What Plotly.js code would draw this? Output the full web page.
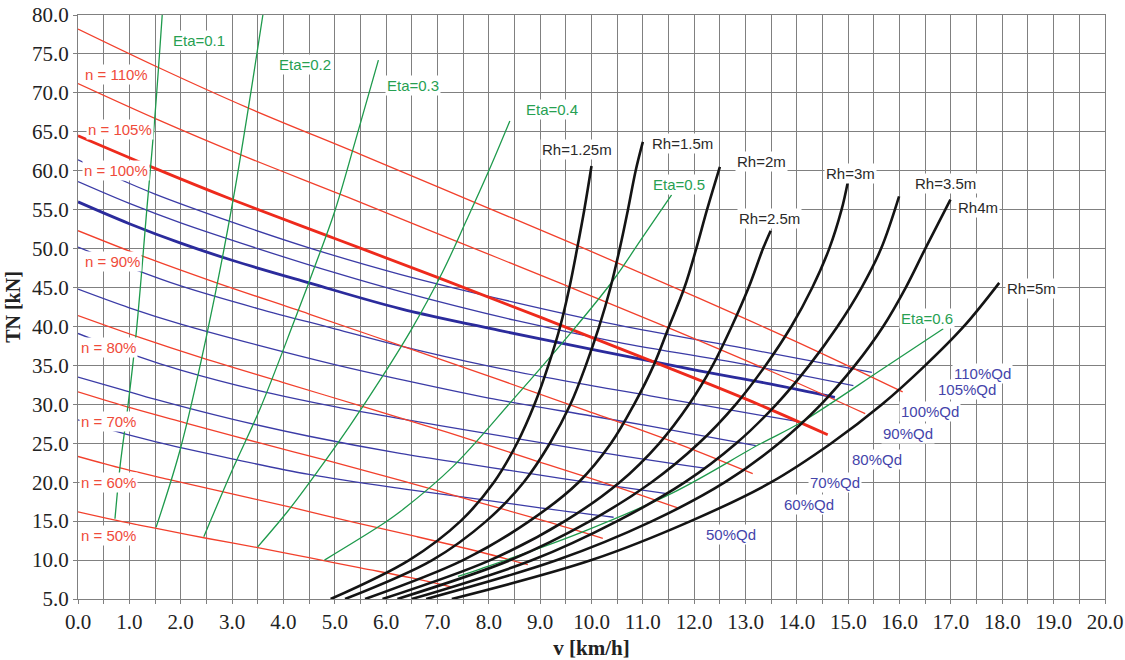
<!DOCTYPE html>
<html>
<head>
<meta charset="utf-8">
<script src="https://cdn.plot.ly/plotly-3.0.1.min.js"></script>
<style>html,body{margin:0;padding:0;background:#fff;}#chart{width:1125px;height:660px;}</style>
</head>
<body>
<div id="chart"></div>
<script>
// ---------- DATA ----------
// Red: constant propeller speed n
const red110V = [0, 1.65, 3.3, 5.5, 7.7, 9.9, 12.1, 14.3, 16.06];
const red110T = [78.2, 73.0, 68.1, 62.1, 56.0, 49.9, 43.6, 37.1, 31.6];
const red105V = [0, 1.575, 3.15, 5.25, 7.35, 9.45, 11.55, 13.65, 15.33];
const red105T = [71.2, 66.5, 62.1, 56.6, 51.0, 45.4, 39.7, 33.8, 28.8];
const red100V = [0, 1.5, 3, 5, 7, 9, 11, 13, 14.6];
const red100T = [64.5, 60.3, 56.3, 51.3, 46.3, 41.2, 36.0, 30.7, 26.1];
const red90V = [0, 1.35, 2.7, 4.5, 6.3, 8.1, 9.9, 11.7, 13.14];
const red90T = [52.3, 48.8, 45.6, 41.6, 37.5, 33.4, 29.2, 24.9, 21.1];
const red80V = [0, 1.2, 2.4, 4, 5.6, 7.2, 8.8, 10.4, 11.68];
const red80T = [41.4, 38.6, 36.0, 32.8, 29.6, 26.4, 23.0, 19.6, 16.7];
const red70V = [0, 1.05, 2.1, 3.5, 4.9, 6.3, 7.7, 9.1, 10.22];
const red70T = [31.6, 29.5, 27.6, 25.1, 22.7, 20.2, 17.6, 15.0, 12.8];
const red60V = [0, 0.9, 1.8, 3, 4.2, 5.4, 6.6, 7.8, 8.76];
const red60T = [23.3, 21.7, 20.3, 18.5, 16.7, 14.8, 13.0, 11.1, 9.4];
const red50V = [0, 0.75, 1.5, 2.5, 3.5, 4.5, 5.5, 6.5, 7.3];
const red50T = [16.2, 15.1, 14.1, 12.8, 11.6, 10.3, 9.0, 7.7, 6.5];

// Blue: constant delivered power Qd
const q110V = [0, 0.75, 1.5, 3, 4.5, 6.27, 8.5, 10.5, 13.09, 15.46];
const q110T = [61.4, 59.1, 57.0, 53.4, 50.1, 46.7, 43.1, 40.2, 37.05, 34.1];
const q105V = [0, 1, 2, 3.5, 5, 6.27, 8.5, 10.5, 13.09, 15.1];
const q105T = [58.6, 55.8, 53.3, 50.0, 46.9, 44.5, 40.8, 38.0, 35.0, 32.4];
const q100V = [0, 1, 2, 3, 4.5, 6.27, 8.2, 10.2, 12.1, 13.5, 14.74];
const q100T = [56.0, 53.2, 50.7, 48.5, 45.6, 42.3, 39.5, 36.8, 34.3, 32.6, 30.9];
const q90V = [0, 1.07, 2, 3.5, 5, 6.27, 8, 10, 11.14, 12.5, 14.0];
const q90T = [50.2, 47.4, 45.2, 42.3, 39.7, 37.5, 34.9, 32.4, 31.1, 29.5, 27.8];
const q80V = [0, 1, 2, 3.5, 5, 6.27, 8, 10, 11.14, 13.2];
const q80T = [44.8, 42.4, 40.3, 37.6, 35.1, 33.2, 30.8, 28.5, 27.2, 24.7];
const q70V = [0, 1.11, 2, 3.5, 5, 6.5, 7.83, 10, 12.2];
const q70T = [39.1, 36.3, 34.4, 31.8, 29.7, 27.9, 26.4, 24.0, 21.8];
const q60V = [0, 0.8, 1.53, 3, 4.5, 6.27, 7.83, 9.5, 11.5];
const q60T = [33.5, 32.0, 30.6, 28.1, 25.9, 23.7, 22.1, 20.4, 18.5];
const q50V = [0, 0.43, 1.5, 3, 4.5, 6.27, 7.83, 9, 10.43];
const q50T = [28.0, 27.1, 25.2, 23.0, 21.0, 19.2, 17.8, 16.7, 15.5];

// Green: constant efficiency Eta
const eta01V = [0.72, 0.82, 0.98, 1.14, 1.34, 1.5, 1.64];
const eta01T = [15.3, 22.1, 30.2, 39.6, 55.0, 67.2, 80.0];
const eta02V = [1.52, 1.99, 2.5, 3.02, 3.6];
const eta02T = [14.2, 24.2, 38.7, 56.25, 80.0];
const eta03V = [2.45, 3.0, 3.55, 4.2, 4.6, 5.0, 5.4, 5.85];
const eta03T = [13.0, 21.5, 29.5, 40.5, 47.5, 54.8, 63.8, 74.2];
const eta04V = [3.5, 4.1, 4.7, 5.3, 5.9, 6.5, 7.1, 7.57, 8.0, 8.41];
const eta04T = [11.7, 16.4, 21.7, 27.3, 33.3, 39.7, 47.0, 53.7, 60.0, 66.4];
const eta05V = [4.8, 5.88, 6.27, 7.3, 8.47, 9.65, 10.43, 11.0, 11.56];
const eta05T = [10.0, 14.4, 16.2, 22.0, 30.6, 39.6, 46.0, 51.5, 56.9];
const eta06V = [7.4, 7.83, 9.78, 11.6, 13.28, 14.06, 15.68, 16.85];
const eta06T = [7.9, 8.85, 13.5, 18.7, 24.9, 27.6, 34.6, 39.7];

// Black: hull resistance for hydraulic radius Rh
const rh125V = [4.92, 6.45, 7.45, 8.1, 8.55, 8.89, 9.16, 9.39, 9.57, 9.72, 9.86, 10.0];
const rh125T = [5, 10, 15, 20, 25, 30, 35, 40, 45, 50, 55, 60.6];
const rh15V = [5.2, 6.9, 7.95, 8.68, 9.19, 9.59, 9.89, 10.15, 10.37, 10.55, 10.71, 10.86, 11.0];
const rh15T = [5, 10, 15, 20, 25, 30, 35, 40, 45, 50, 55, 60, 63.7];
const rh2V = [5.59, 7.5, 8.79, 9.75, 10.38, 10.83, 11.21, 11.51, 11.81, 12.04, 12.25, 12.5];
const rh2T = [5, 10, 15, 20, 25, 30, 35, 40, 45, 50, 55, 60.5];
const rh25V = [5.93, 8.03, 9.48, 10.55, 11.32, 11.9, 12.36, 12.73, 13.06, 13.34, 13.49];
const rh25T = [5, 10, 15, 20, 25, 30, 35, 40, 45, 50, 52.3];
const rh3V = [6.22, 8.42, 9.97, 11.17, 12.09, 12.81, 13.39, 13.89, 14.3, 14.63, 14.87, 14.99];
const rh3T = [5, 10, 15, 20, 25, 30, 35, 40, 45, 50, 55, 58.5];
const rh35V = [6.5, 8.85, 10.5, 11.82, 12.82, 13.6, 14.24, 14.79, 15.26, 15.64, 15.99];
const rh35T = [5, 10, 15, 20, 25, 30, 35, 40, 45, 50, 56.7];
const rh4V = [6.78, 9.33, 11.18, 12.6, 13.65, 14.47, 15.13, 15.68, 16.12, 16.5, 16.99];
const rh4T = [5, 10, 15, 20, 25, 30, 35, 40, 45, 50, 56.3];
const rh5V = [7.28, 10.0, 11.93, 13.5, 14.67, 15.66, 16.5, 17.25, 17.94];
const rh5T = [5, 10, 15, 20, 25, 30, 35, 40, 45.6];

// Labels
const redLabels = ['n = 110%', 'n = 105%', 'n = 100%', 'n = 90%', 'n = 80%', 'n = 70%', 'n = 60%', 'n = 50%'];
const redLabelX = [0.74, 0.82, 0.74, 0.68, 0.6, 0.6, 0.6, 0.6];
const redLabelY = [72.3, 65.3, 60.0, 48.3, 37.3, 27.8, 20.0, 13.1];
const etaLabels = ['Eta=0.1', 'Eta=0.2', 'Eta=0.3', 'Eta=0.4', 'Eta=0.5', 'Eta=0.6'];
const etaLabelX = [2.36, 4.42, 6.52, 9.23, 11.7, 16.53];
const etaLabelY = [76.7, 73.6, 71.0, 67.9, 58.2, 41.0];
const rhLabels = ['Rh=1.25m', 'Rh=1.5m', 'Rh=2m', 'Rh=2.5m', 'Rh=3m', 'Rh=3.5m', 'Rh4m', 'Rh=5m'];
const rhLabelX = [9.72, 11.78, 13.32, 13.46, 15.05, 16.9, 17.52, 18.56];
const rhLabelY = [62.7, 63.5, 61.15, 53.85, 59.7, 58.3, 55.3, 44.9];
const qdLabels = ['110%Qd', '105%Qd', '100%Qd', '90%Qd', '80%Qd', '70%Qd', '60%Qd', '50%Qd'];
const qdLabelX = [17.62, 17.31, 16.6, 16.16, 15.56, 14.74, 14.24, 12.72];
const qdLabelY = [34.0, 31.9, 29.1, 26.3, 22.95, 19.9, 17.2, 13.3];

// ---------- STYLES ----------
const RED = '#f2402c', BLUE = '#3b3ba6', GREEN = '#1e9a4c', BLACK = '#141414';
const RED_T = '#ef4b3a', BLUE_T = '#4444aa', GREEN_T = '#27a052', BLACK_T = '#2a2a2a';

function tr(x, y, color, width, name) {
  return {x: x, y: y, type: 'scatter', mode: 'lines', name: name,
          line: {color: color, width: width, shape: 'spline', smoothing: 1},
          hoverinfo: 'skip', showlegend: false};
}

const traces = [
  tr(q50V, q50T, BLUE, 1.3, '50%Qd'),
  tr(q60V, q60T, BLUE, 1.3, '60%Qd'),
  tr(q70V, q70T, BLUE, 1.3, '70%Qd'),
  tr(q80V, q80T, BLUE, 1.3, '80%Qd'),
  tr(q90V, q90T, BLUE, 1.3, '90%Qd'),
  tr(q100V, q100T, '#2b2b9c', 2.8, '100%Qd'),
  tr(q105V, q105T, BLUE, 1.3, '105%Qd'),
  tr(q110V, q110T, BLUE, 1.3, '110%Qd'),
  tr(red50V, red50T, RED, 1.3, 'n=50%'),
  tr(red60V, red60T, RED, 1.3, 'n=60%'),
  tr(red70V, red70T, RED, 1.3, 'n=70%'),
  tr(red80V, red80T, RED, 1.3, 'n=80%'),
  tr(red90V, red90T, RED, 1.3, 'n=90%'),
  tr(red100V, red100T, '#ee2a1c', 2.8, 'n=100%'),
  tr(red105V, red105T, RED, 1.3, 'n=105%'),
  tr(red110V, red110T, RED, 1.3, 'n=110%'),
  tr(eta01V, eta01T, GREEN, 1.3, 'Eta=0.1'),
  tr(eta02V, eta02T, GREEN, 1.3, 'Eta=0.2'),
  tr(eta03V, eta03T, GREEN, 1.3, 'Eta=0.3'),
  tr(eta04V, eta04T, GREEN, 1.3, 'Eta=0.4'),
  tr(eta05V, eta05T, GREEN, 1.3, 'Eta=0.5'),
  tr(eta06V, eta06T, GREEN, 1.3, 'Eta=0.6'),
  tr(rh125V, rh125T, BLACK, 2.6, 'Rh=1.25m'),
  tr(rh15V, rh15T, BLACK, 2.6, 'Rh=1.5m'),
  tr(rh2V, rh2T, BLACK, 2.6, 'Rh=2m'),
  tr(rh25V, rh25T, BLACK, 2.6, 'Rh=2.5m'),
  tr(rh3V, rh3T, BLACK, 2.6, 'Rh=3m'),
  tr(rh35V, rh35T, BLACK, 2.6, 'Rh=3.5m'),
  tr(rh4V, rh4T, BLACK, 2.6, 'Rh4m'),
  tr(rh5V, rh5T, BLACK, 2.6, 'Rh=5m')
];

const labelFont = 'Liberation Sans, Arial, sans-serif';
function labels(texts, xs, ys, color) {
  return texts.map(function (t, i) {
    return {text: t, x: xs[i], y: ys[i], xref: 'x', yref: 'y', showarrow: false,
            xanchor: 'center', yanchor: 'middle', bgcolor: '#ffffff', borderpad: 1,
            font: {family: labelFont, size: 15, color: color}};
  });
}
const annotations = [].concat(
  labels(redLabels, redLabelX, redLabelY, RED_T),
  labels(etaLabels, etaLabelX, etaLabelY, GREEN_T),
  labels(rhLabels, rhLabelX, rhLabelY, BLACK_T),
  labels(qdLabels, qdLabelX, qdLabelY, BLUE_T)
);

const GRID = '#808080';
const serif = 'Liberation Serif, Times New Roman, serif';
const layout = {
  width: 1125, height: 660,
  margin: {l: 78, r: 20, t: 15, b: 61},
  paper_bgcolor: '#ffffff', plot_bgcolor: '#ffffff',
  showlegend: false,
  xaxis: {
    range: [0, 20], tick0: 0, dtick: 1, tickformat: '.1f',
    showgrid: true, gridcolor: GRID, gridwidth: 1,
    minor: {dtick: 0.5, showgrid: true, gridcolor: GRID, gridwidth: 1, ticks: 'outside', ticklen: 4, tickcolor: GRID},
    ticks: 'outside', ticklen: 4, tickcolor: GRID,
    showline: true, linecolor: GRID, linewidth: 1, mirror: true, zeroline: false,
    tickfont: {family: serif, size: 21, color: '#222'},
    title: {text: '<b>v [km/h]</b>', font: {family: serif, size: 21, color: '#222'}, standoff: 8},
    fixedrange: true
  },
  yaxis: {
    range: [5, 80], tick0: 0, dtick: 5, tickformat: '.1f',
    showgrid: true, gridcolor: GRID, gridwidth: 1,
    ticks: 'outside', ticklen: 4, tickcolor: GRID,
    showline: true, linecolor: GRID, linewidth: 1, mirror: true, zeroline: false,
    tickfont: {family: serif, size: 21, color: '#222'},
    title: {text: '<b>TN [kN]</b>', font: {family: serif, size: 20, color: '#222'}, standoff: 6},
    fixedrange: true
  },
  annotations: annotations
};

Plotly.newPlot('chart', traces, layout, {displayModeBar: false, staticPlot: true});
</script>
</body>
</html>
